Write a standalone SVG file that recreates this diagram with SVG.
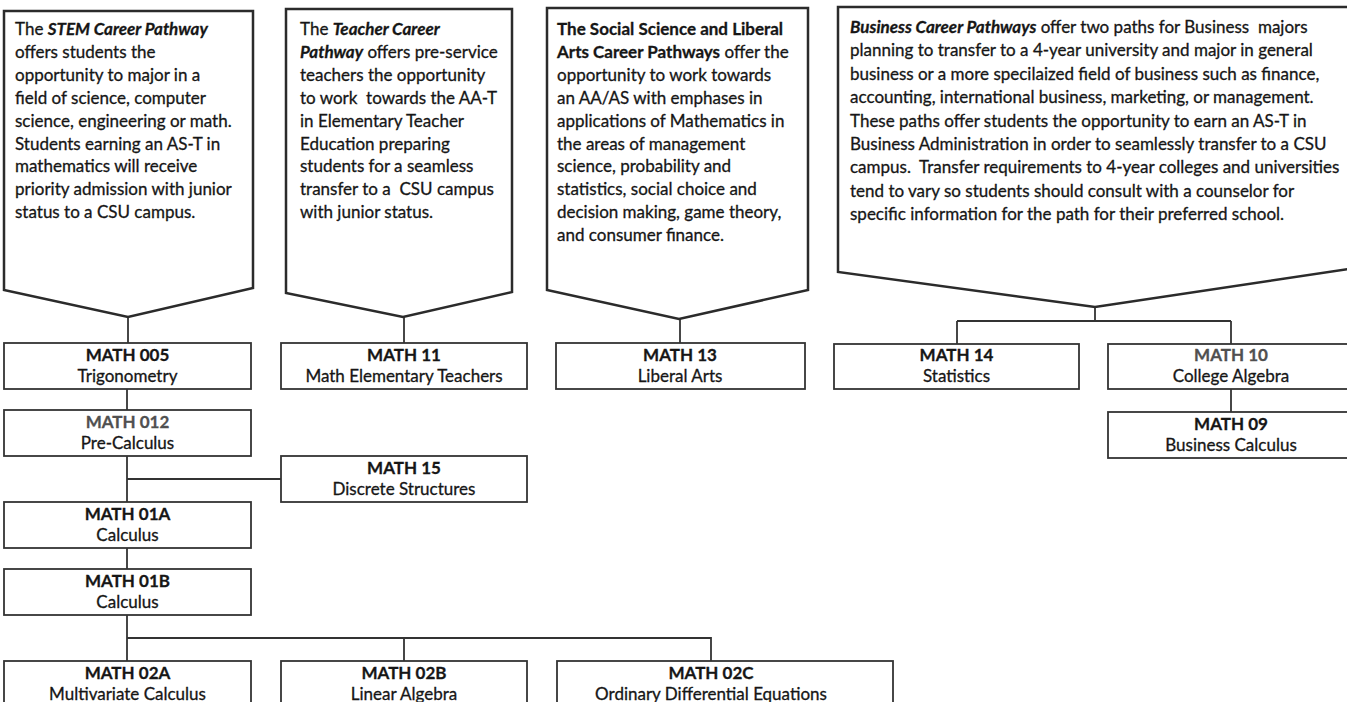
<svg xmlns="http://www.w3.org/2000/svg" width="1347" height="702" viewBox="0 0 1347 702">
<style>
  text { font-family: Lato, "Liberation Sans", sans-serif; fill: #161616; white-space: pre; stroke: #161616; stroke-width: 0.3; }
  .ct { font-size: 17px; }
  .bi { font-weight: bold; font-style: italic; }
  .b { font-weight: bold; }
  .callout { fill: #ffffff; stroke: #2b2b2b; stroke-width: 2.5; stroke-linejoin: miter; }
  .box { fill: #ffffff; stroke: #333333; stroke-width: 1.8; }
  .bt { font-size: 17px; font-weight: bold; text-anchor: middle; }
  .nt { font-size: 17px; text-anchor: middle; }
  .gray { fill: #505050; stroke: #505050; }
  .conn { fill: none; stroke: #333333; stroke-width: 1.8; }
</style>
<rect x="0" y="0" width="1347" height="702" fill="#ffffff"/>

<g id="connectors">
  <path class="conn" d="M128,317 V343"/>
  <path class="conn" d="M404,317 V343"/>
  <path class="conn" d="M680,319 V343"/>
  <path class="conn" d="M1095,307 V321 M957,321 H1231 M957,321 V344 M1231,321 V344"/>
  <path class="conn" d="M1231,389 V412"/>
  <path class="conn" d="M127,389 V410"/>
  <path class="conn" d="M127,456 V502 M127,479 H281"/>
  <path class="conn" d="M127,548 V569"/>
  <path class="conn" d="M127,615 V661 M127,638 H711 V661 M404,638 V661"/>
</g>

<g id="callout-stem">
  <path class="callout" d="M4,11 H253 V288 L128,317 L4,290 Z"/>
  <text class="ct" x="15" y="35">The <tspan class="bi">STEM Career Pathway</tspan></text>
  <text class="ct" x="15" y="57.9">offers students the</text>
  <text class="ct" x="15" y="80.8">opportunity to major in a</text>
  <text class="ct" x="15" y="103.7">field of science, computer</text>
  <text class="ct" x="15" y="126.6">science, engineering or math.</text>
  <text class="ct" x="15" y="149.5">Students earning an AS-T in</text>
  <text class="ct" x="15" y="172.4">mathematics will receive</text>
  <text class="ct" x="15" y="195.3">priority admission with junior</text>
  <text class="ct" x="15" y="218.2">status to a CSU campus.</text>
</g>

<g id="callout-teacher">
  <path class="callout" d="M286,9 H512 V292 L403,317 L286,293 Z"/>
  <text class="ct" x="300" y="35">The <tspan class="bi">Teacher Career</tspan></text>
  <text class="ct" x="300" y="57.9"><tspan class="bi">Pathway</tspan> offers pre-service</text>
  <text class="ct" x="300" y="80.8">teachers the opportunity</text>
  <text class="ct" x="300" y="103.7">to work  towards the AA-T</text>
  <text class="ct" x="300" y="126.6">in Elementary Teacher</text>
  <text class="ct" x="300" y="149.5">Education preparing</text>
  <text class="ct" x="300" y="172.4">students for a seamless</text>
  <text class="ct" x="300" y="195.3">transfer to a  CSU campus</text>
  <text class="ct" x="300" y="218.2">with junior status.</text>
</g>

<g id="callout-social">
  <path class="callout" d="M547,8 H808 V290 L679,319 L547,290 Z"/>
  <text class="ct b" x="557" y="35">The Social Science and Liberal</text>
  <text class="ct" x="557" y="57.9"><tspan class="b">Arts Career Pathways</tspan> offer the</text>
  <text class="ct" x="557" y="80.8">opportunity to work towards</text>
  <text class="ct" x="557" y="103.7">an AA/AS with emphases in</text>
  <text class="ct" x="557" y="126.6">applications of Mathematics in</text>
  <text class="ct" x="557" y="149.5">the areas of management</text>
  <text class="ct" x="557" y="172.4">science, probability and</text>
  <text class="ct" x="557" y="195.3">statistics, social choice and</text>
  <text class="ct" x="557" y="218.2">decision making, game theory,</text>
  <text class="ct" x="557" y="241.1">and consumer finance.</text>
</g>

<g id="callout-business">
  <path class="callout" d="M838,7 H1355 V268 L1095,307 L838,272 Z"/>
  <text class="ct" x="850" y="33"><tspan class="bi">Business Career Pathways</tspan> offer two paths for Business  majors</text>
  <text class="ct" x="850" y="56.4">planning to transfer to a 4-year university and major in general</text>
  <text class="ct" x="850" y="79.8">business or a more specilaized field of business such as finance,</text>
  <text class="ct" x="850" y="103.2">accounting, international business, marketing, or management.</text>
  <text class="ct" x="850" y="126.6">These paths offer students the opportunity to earn an AS-T in</text>
  <text class="ct" x="850" y="150">Business Administration in order to seamlessly transfer to a CSU</text>
  <text class="ct" x="850" y="173.4">campus.  Transfer requirements to 4-year colleges and universities</text>
  <text class="ct" x="850" y="196.8">tend to vary so students should consult with a counselor for</text>
  <text class="ct" x="850" y="220.2">specific information for the path for their preferred school.</text>
</g>

<g id="math005">
  <rect class="box" x="4" y="343" width="247" height="46"/>
  <text class="bt" x="127.5" y="361">MATH 005</text>
  <text class="nt" x="127.5" y="382">Trigonometry</text>
</g>
<g id="math11">
  <rect class="box" x="281" y="343" width="246" height="46"/>
  <text class="bt" x="404" y="361">MATH 11</text>
  <text class="nt" x="404" y="382">Math Elementary Teachers</text>
</g>
<g id="math13">
  <rect class="box" x="556" y="343" width="249" height="46"/>
  <text class="bt" x="680" y="361">MATH 13</text>
  <text class="nt" x="680" y="382">Liberal Arts</text>
</g>
<g id="math14">
  <rect class="box" x="834" y="344" width="245" height="45"/>
  <text class="bt" x="956.5" y="361">MATH 14</text>
  <text class="nt" x="956.5" y="382">Statistics</text>
</g>
<g id="math10">
  <rect class="box" x="1108" y="344" width="246" height="45"/>
  <text class="bt gray" x="1231" y="361">MATH 10</text>
  <text class="nt" x="1231" y="382">College Algebra</text>
</g>
<g id="math09">
  <rect class="box" x="1108" y="412" width="246" height="46"/>
  <text class="bt" x="1231" y="430">MATH 09</text>
  <text class="nt" x="1231" y="451">Business Calculus</text>
</g>
<g id="math012">
  <rect class="box" x="4" y="410" width="247" height="46"/>
  <text class="bt gray" x="127.5" y="428">MATH 012</text>
  <text class="nt" x="127.5" y="449">Pre-Calculus</text>
</g>
<g id="math15">
  <rect class="box" x="281" y="456" width="246" height="46"/>
  <text class="bt" x="404" y="474">MATH 15</text>
  <text class="nt" x="404" y="495">Discrete Structures</text>
</g>
<g id="math01a">
  <rect class="box" x="4" y="502" width="247" height="46"/>
  <text class="bt" x="127.5" y="520">MATH 01A</text>
  <text class="nt" x="127.5" y="541">Calculus</text>
</g>
<g id="math01b">
  <rect class="box" x="4" y="569" width="247" height="46"/>
  <text class="bt" x="127.5" y="587">MATH 01B</text>
  <text class="nt" x="127.5" y="608">Calculus</text>
</g>
<g id="math02a">
  <rect class="box" x="4" y="661" width="247" height="46"/>
  <text class="bt" x="127.5" y="679">MATH 02A</text>
  <text class="nt" x="127.5" y="700">Multivariate Calculus</text>
</g>
<g id="math02b">
  <rect class="box" x="281" y="661" width="246" height="46"/>
  <text class="bt" x="404" y="679">MATH 02B</text>
  <text class="nt" x="404" y="700">Linear Algebra</text>
</g>
<g id="math02c">
  <rect class="box" x="557" y="661" width="336" height="46"/>
  <text class="bt" x="711" y="679">MATH 02C</text>
  <text class="nt" x="711" y="700">Ordinary Differential Equations</text>
</g>
</svg>
